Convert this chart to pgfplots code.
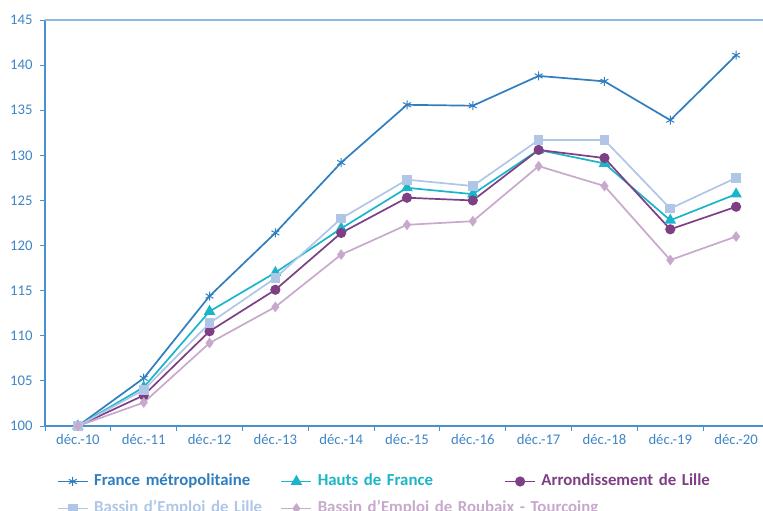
\documentclass[border=0pt]{standalone}
\usepackage{pgfplots}
\pgfplotsset{compat=1.18}
\usepackage{fontspec}
\setmainfont{Carlito}
\definecolor{cFr}{HTML}{2F7EC0}
\definecolor{cHdf}{HTML}{1BB5C9}
\definecolor{cArr}{HTML}{7E3F84}
\definecolor{cBel}{HTML}{AFC6E7}
\definecolor{cRou}{HTML}{C7A9CB}
\definecolor{cAxis}{HTML}{4A8FCE}
\definecolor{cTop}{HTML}{8DB8E0}
\definecolor{cTick}{HTML}{3D85C6}
\begin{document}
\begin{tikzpicture}
\useasboundingbox (0pt,0pt) rectangle (763pt,-511pt);
\clip (0pt,0pt) rectangle (763pt,-511pt);
\begin{axis}[
  at={(45pt,-426pt)}, anchor=south west,
  scale only axis, width=724pt, height=406pt,
  xmin=-0.5, xmax=10.5, ymin=100, ymax=145,
  axis x line*=bottom, axis y line*=left,
  axis line style={cAxis, line width=1.2pt, -},
  ytick={100,105,...,145},
  xtick={-0.5,0.5,...,10.5}, xticklabels={},
  extra x ticks={0,1,...,10},
  extra x tick labels={déc.-10,déc.-11,déc.-12,déc.-13,déc.-14,déc.-15,déc.-16,déc.-17,déc.-18,déc.-19,déc.-20},
  extra x tick style={major tick length=0pt, tick label style={yshift=-5pt}},
  yticklabel style={xshift=-4pt},
  tick align=outside, major tick length=5pt,
  tick style={cAxis, line width=1pt},
  tick label style={font=\fontsize{14.7}{16}\selectfont, text=cTick},
  /pgf/number format/assume math mode=true,
  clip=false,
  legend columns=3,
  legend style={at={(0.012,-0.098)}, anchor=north west, draw=none, fill=none,
    font=\fontsize{16.8}{18}\selectfont\bfseries,
    nodes={text width=181pt, align=left, text height=12pt, text depth=4pt, inner sep=5.5pt},
    column sep=0pt},
  legend image code/.code={\draw[mark repeat=2,mark phase=2] plot coordinates {(0pt,0pt)(15pt,0pt)(30pt,0pt)};},
  every axis plot/.append style={line width=1.7pt},
]
\addplot[cFr, mark=asterisk, mark size=4.5pt, mark options={line width=1pt}] coordinates {
(0,100)(1,105.3)(2,114.4)(3,121.4)(4,129.2)(5,135.6)(6,135.5)(7,138.8)(8,138.2)(9,133.9)(10,141.1)};
\addlegendentry[text=cFr, xshift=-3pt]{France métropolitaine}
\addplot[cHdf, mark=triangle*, mark size=5pt] coordinates {
(0,100)(1,104.3)(2,112.7)(3,117.0)(4,121.9)(5,126.4)(6,125.7)(7,130.6)(8,129.1)(9,122.8)(10,125.7)};
\addlegendentry[text=cHdf, xshift=-3pt]{Hauts de France}
\addplot[cArr, mark=*, mark size=4.2pt] coordinates {
(0,100)(1,103.4)(2,110.5)(3,115.1)(4,121.4)(5,125.3)(6,125.0)(7,130.6)(8,129.7)(9,121.8)(10,124.3)};
\addlegendentry[text=cArr, xshift=-3pt]{Arrondissement de Lille}
\addplot[cBel, mark=square*, mark size=4pt] coordinates {
(0,100)(1,104.0)(2,111.4)(3,116.4)(4,123.0)(5,127.3)(6,126.6)(7,131.7)(8,131.7)(9,124.1)(10,127.5)};
\addlegendentry[text=cBel, xshift=-3pt]{Bassin d’Emploi de Lille}
\addplot[cRou, mark=diamond*, mark size=4pt] coordinates {
(0,100)(1,102.6)(2,109.2)(3,113.2)(4,119.0)(5,122.3)(6,122.7)(7,128.8)(8,126.6)(9,118.4)(10,121.0)};
\addlegendentry[text=cRou, xshift=-3pt]{\makebox[0pt][l]{Bassin d’Emploi de Roubaix - Tourcoing}}
\draw[cTop, line width=1.2pt] (axis cs:-0.5,145) -- (axis cs:10.5,145);
\end{axis}
\end{tikzpicture}
\end{document}
